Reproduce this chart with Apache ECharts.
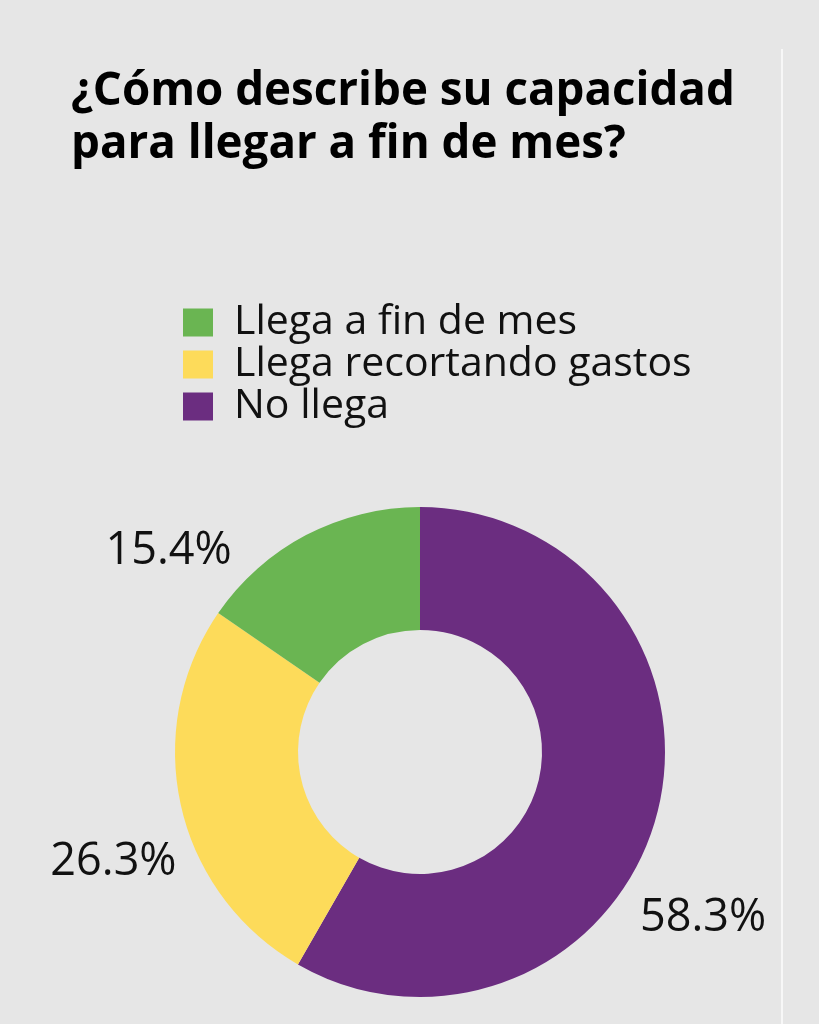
<!DOCTYPE html>
<html>
<head>
<meta charset="utf-8">
<script src="https://cdn.jsdelivr.net/npm/echarts@6/dist/echarts.min.js"></script>
<style>
html,body{margin:0;padding:0;background:#e6e6e6;}
#c{width:819px;height:1024px;}
</style>
</head>
<body>
<div id="c"></div>
<script>
// Data (clockwise from 12 o'clock)
const categories = ['No llega', 'Llega recortando gastos', 'Llega a fin de mes'];
const values = [58.3, 26.3, 15.4];
const colors = ['#6b2d80', '#fddb5a', '#6ab552'];
const legendOrder = ['Llega a fin de mes', 'Llega recortando gastos', 'No llega'];
const titleText = '¿Cómo describe su capacidad\npara llegar a fin de mes?';
// label nudges (dx, dy) from default outside position
const labelNudge = [[-41, 98], [20, 52], [-60, 34]];

const chart = echarts.init(document.getElementById('c'));
chart.setOption({
  backgroundColor: '#e6e6e6',
  animation: false,
  title: {
    text: titleText,
    left: 66, top: 60,
    textStyle: {
      fontFamily: 'Open Sans', fontWeight: 'bold', fontSize: 45.7,
      lineHeight: 53, color: '#000'
    }
  },
  legend: {
    data: legendOrder,
    orient: 'vertical',
    left: 178, top: 297,
    itemWidth: 30, itemHeight: 28, itemGap: 1,
    icon: 'rect',
    textStyle: {
      fontFamily: 'Open Sans', fontSize: 41, color: '#111',
      padding: [0, 0, 0, 16]
    }
  },
  graphic: [{
    type: 'rect',
    shape: { x: 781, y: 49, width: 2, height: 975 },
    style: { fill: '#f7f7f7' },
    silent: true
  }],
  series: [{
    type: 'pie',
    center: [420, 752],
    radius: [122, 245],
    startAngle: 90,
    clockwise: true,
    data: categories.map((n, i) => ({ name: n, value: values[i], itemStyle: { color: colors[i] } })),
    label: {
      show: true,
      position: 'outside',
      overflow: 'none',
      formatter: p => p.value.toFixed(1) + '%',
      fontFamily: 'Open Sans', fontSize: 45, color: '#111'
    },
    labelLine: { show: false, length: 20, length2: 0 },
    labelLayout: p => ({ dx: labelNudge[p.dataIndex][0], dy: labelNudge[p.dataIndex][1] }),
    emphasis: { disabled: true }
  }]
});
</script>
</body>
</html>
